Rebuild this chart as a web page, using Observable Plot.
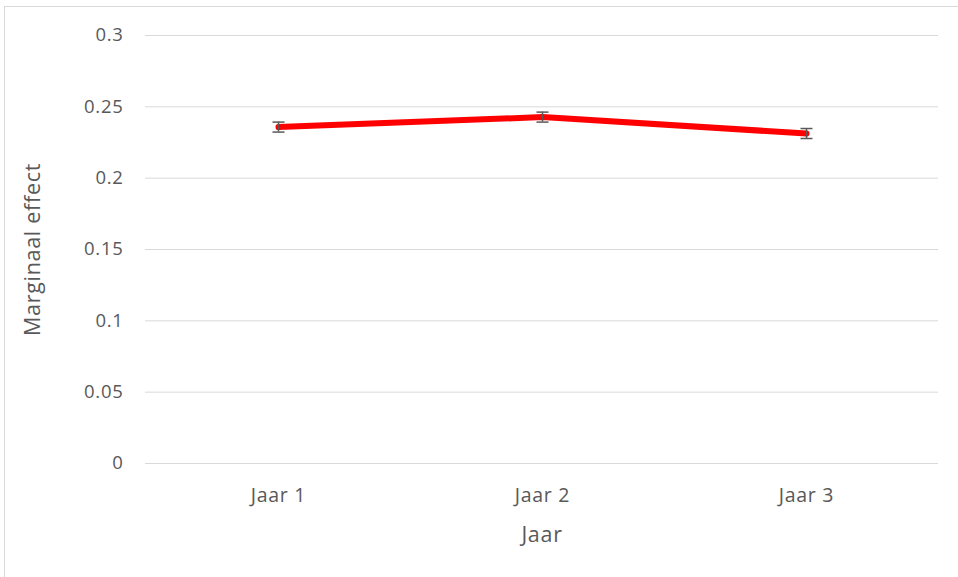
<!DOCTYPE html>
<html><head><meta charset="utf-8">
<script src="https://cdn.jsdelivr.net/npm/d3@7"></script>
<script src="https://cdn.jsdelivr.net/npm/@observablehq/plot@0.6"></script>
<style>
html,body{margin:0;padding:0;background:#fff;}
#wrap{position:relative;width:958px;height:577px;overflow:hidden;}
#frame{position:absolute;left:4px;top:6px;width:1000px;height:700px;border:1px solid #d9d9d9;box-sizing:border-box;}
#chart{position:absolute;left:0;top:0;}
#chart svg text{letter-spacing:0.7px;}
</style></head>
<body><div id="wrap"><div id="frame"></div><div id="chart"></div></div>
<script>
const years = ["Jaar 1", "Jaar 2", "Jaar 3"];
const effects = [0.2358, 0.2428, 0.2313];
const errors = [0.0035, 0.0035, 0.0035];
const yTicks = [0, 0.05, 0.1, 0.15, 0.2, 0.25, 0.3];

const data = years.map((y, i) => ({year: y, v: effects[i], lo: effects[i] - errors[i], hi: effects[i] + errors[i]}));
const capSymbol = {draw(ctx, size) { ctx.moveTo(-6, 0); ctx.lineTo(6, 0); }};

const chart = Plot.plot({
  width: 958, height: 577,
  marginLeft: 145, marginRight: 20, marginTop: 35, marginBottom: 114,
  style: {fontFamily: "Open Sans, sans-serif", fontSize: "18px", color: "#595959", background: "transparent"},
  x: {type: "point", domain: years, padding: 0.5, label: null},
  y: {domain: [0, 0.3], label: null},
  marks: [
    Plot.ruleY(yTicks, {stroke: "#d9d9d9", strokeWidth: 1}),
    Plot.axisY({ticks: yTicks, tickSize: 0, tickPadding: 22, tickFormat: d => String(+d.toFixed(2)), fontSize: 18.5, fill: "#595959"}),
    Plot.axisX({tickSize: 0, tickPadding: 25, fontSize: 19.5, fill: "#595959"}),
    Plot.line(data, {x: "year", y: "v", stroke: "#ff0000", strokeWidth: 6, strokeLinecap: "round"}),
    Plot.ruleX(data, {x: "year", y1: "lo", y2: "hi", stroke: "#595959", strokeWidth: 1.5}),
    Plot.dot(data, {x: "year", y: "hi", symbol: capSymbol, stroke: "#595959", strokeWidth: 1.5, r: 6}),
    Plot.dot(data, {x: "year", y: "lo", symbol: capSymbol, stroke: "#595959", strokeWidth: 1.5, r: 6}),
    Plot.text(["Jaar"], {frameAnchor: "bottom", dy: 78, fontSize: 21.5, fill: "#595959"}),
    Plot.text(["Marginaal effect"], {frameAnchor: "left", textAnchor: "middle", dx: -112, rotate: -90, fontSize: 21.5, fill: "#595959"})
  ]
});
document.getElementById("chart").appendChild(chart);
</script></body></html>
